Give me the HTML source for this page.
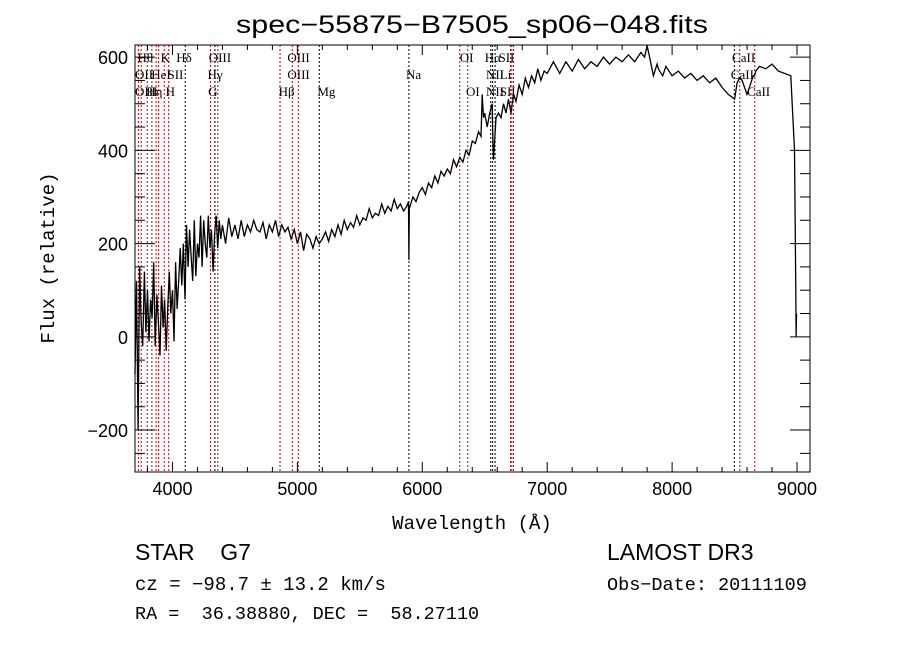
<!DOCTYPE html>
<html><head><meta charset="utf-8"><style>
body{margin:0;background:#fff;}
svg text{font-family:"Liberation Serif",serif;}
</style></head><body>
<svg id="c" width="900" height="649" viewBox="0 0 900 649" xmlns="http://www.w3.org/2000/svg">
<rect width="900" height="649" fill="#fff"/>
<text x="236" y="33" textLength="472" lengthAdjust="spacingAndGlyphs" font-size="25" style="font-family:'Liberation Sans',sans-serif">spec−55875−B7505_sp06−048.fits</text>
<g id="plot"></g>
<text x="54" y="258" text-anchor="middle" font-size="19" transform="rotate(-90 54 258)" style="font-family:'Liberation Mono',monospace">Flux (relative)</text>
<text x="472" y="529" text-anchor="middle" font-size="19" style="font-family:'Liberation Mono',monospace">Wavelength (Å)</text>
<text x="135" y="560" font-size="23" style="font-family:'Liberation Sans',sans-serif">STAR&#160;&#160;&#160; G7</text>
<text x="607" y="560" font-size="23" style="font-family:'Liberation Sans',sans-serif">LAMOST DR3</text>
<text x="135" y="590" font-size="19" style="font-family:'Liberation Mono',monospace">cz = −98.7 ± 13.2 km/s</text>
<text x="607" y="590" font-size="18.5" style="font-family:'Liberation Mono',monospace">Obs−Date: 20111109</text>
<text x="135" y="619" font-size="18.5" style="font-family:'Liberation Mono',monospace;white-space:pre" xml:space="preserve">RA =  36.38880, DEC =  58.27110</text>
</svg>
<script>
const wave = [3700,3712,3725,3737,3750,3762,3775,3787,3800,3812,3825,3837,3850,3862,3875,3887,3900,3912,3925,3937,3950,3962,3975,3987,4000,4012,4025,4037,4050,4062,4075,4087,4100,4112,4125,4137,4150,4162,4175,4187,4200,4212,4225,4237,4250,4262,4275,4287,4300,4312,4325,4337,4350,4362,4375,4387,4400,4425,4450,4475,4500,4525,4550,4575,4600,4625,4650,4675,4700,4725,4750,4775,4800,4825,4850,4875,4900,4925,4950,4975,5000,5025,5050,5075,5100,5125,5150,5175,5200,5225,5250,5275,5300,5325,5350,5375,5400,5425,5450,5475,5500,5525,5550,5575,5600,5625,5650,5675,5700,5725,5750,5775,5800,5825,5850,5875,5890,5893,5896,5925,5950,5975,6000,6025,6050,6075,6100,6125,6150,6175,6200,6225,6250,6275,6300,6325,6350,6375,6400,6425,6450,6470,6480,6490,6500,6520,6540,6560,6565,6570,6590,6610,6630,6650,6670,6690,6710,6730,6750,6775,6800,6825,6850,6875,6900,6925,6950,6975,7000,7050,7100,7150,7200,7250,7300,7350,7400,7450,7500,7550,7600,7650,7700,7750,7780,7800,7820,7850,7880,7890,7900,7925,7950,8000,8050,8100,8150,8200,8250,8300,8350,8400,8450,8500,8520,8540,8560,8600,8650,8660,8670,8700,8750,8800,8850,8900,8950,8980,8990,8993,8996,9000,9003];
const flux = [-80,120,-200,150,30,-20,140,10,100,-10,80,40,160,-20,90,30,-40,110,20,80,-30,60,140,50,100,-10,160,60,120,190,110,200,80,240,150,230,170,120,250,130,200,170,260,150,250,200,170,260,190,230,140,220,260,190,250,210,240,200,255,215,240,210,250,215,240,225,250,230,225,245,210,240,225,250,215,240,225,235,210,230,200,225,185,220,210,190,215,200,210,225,205,230,215,240,220,250,230,245,235,260,240,255,250,275,255,265,260,285,265,280,270,295,275,285,270,280,290,165,275,300,290,310,320,305,330,320,345,330,355,345,360,350,380,365,385,375,400,390,420,415,440,430,520,470,480,450,480,500,420,380,470,480,470,500,480,510,480,520,505,540,520,555,535,560,545,575,550,570,565,590,565,590,570,595,575,590,580,600,585,600,590,605,590,610,600,625,600,560,585,575,570,560,580,560,570,555,565,550,560,545,555,535,520,510,545,555,550,520,560,560,570,580,575,585,570,565,560,400,100,0,50];
const xTicks = [4000,5000,6000,7000,8000,9000];
const yTicks = [-200,0,200,400,600];
const lineWaves = [3727,3750,3798,3835,3869,3889,3934,3970,4102,4304,4340,4363,4861,4959,5007,5175,5893,6300,6364,6548,6563,6583,6707,6717,6731,8498,8542,8662];
const lineColors = ['r','r','r','r','r','r','r','r','k','r','k','r','r','r','r','k','k','r','r','k','k','k','r','r','r','k','r','r'];
const labelText = ['Hθ','OII','OIII','Hη','HeI','K','H','Hδ','SII','OIII','Hγ','G','OIII','OIII','Hβ','Mg','Na','OI','OI','Hα','SII','NII','Li','NII','SII','CaII','CaII','CaII'];
const labelWave = [3720,3700,3700,3790,3830,3905,3945,4030,3960,4290,4280,4285,4920,4920,4850,5160,5870,6300,6350,6500,6610,6510,6620,6510,6620,8480,8470,8600];
const labelRow = [0,1,2,2,1,0,2,0,1,0,1,2,0,1,2,2,1,0,2,0,0,1,1,2,2,0,1,2];

const X0=135,X1=810,Y0=45,Y1=472,WMIN=3700,WMAX=9104,FMIN=-290,FMAX=626;
const sx=w=>X0+(w-WMIN)/(WMAX-WMIN)*(X1-X0);
const sy=f=>Y1-(f-FMIN)/(FMAX-FMIN)*(Y1-Y0);
const NS='http://www.w3.org/2000/svg';
const g=document.getElementById('plot');
function mk(t,a){const e=document.createElementNS(NS,t);for(const k in a)e.setAttribute(k,a[k]);g.appendChild(e);return e;}

lineWaves.forEach((w,i)=>{
  const l=mk('line',{x1:sx(w),x2:sx(w),y1:Y0,y2:Y1,stroke:lineColors[i]==='r'?'#c00000':'#000','stroke-width':1,'stroke-dasharray':'2,2'});
  
  
});
labelText.forEach((t,i)=>{
  const e=mk('text',{x:sx(labelWave[i]),y:62+labelRow[i]*17,'font-size':13});
  e.textContent=t;
  
  
});
let d='';
wave.forEach((w,i)=>{d+=(i?'L':'M')+sx(w).toFixed(1)+','+sy(Math.max(FMIN,Math.min(FMAX,flux[i]))).toFixed(1);});
const p=mk('path',{d:d,fill:'none',stroke:'#000','stroke-width':1.3});



const fr=mk('rect',{x:X0,y:Y0,width:X1-X0,height:Y1-Y0,fill:'none',stroke:'#000','stroke-width':1});


for(let w=3800;w<=9100;w+=200){
  const major=w%1000===0,len=major?10:5;
  mk('line',{x1:sx(w),x2:sx(w),y1:Y1,y2:Y1-len,stroke:'#000'});
  mk('line',{x1:sx(w),x2:sx(w),y1:Y0,y2:Y0+len,stroke:'#000'});
}
for(let f=-250;f<=600;f+=50){
  const major=f%200===0,len=major?20:10;
  mk('line',{x1:X0,x2:X0+len,y1:sy(f),y2:sy(f),stroke:'#000'});
  mk('line',{x1:X1,x2:X1-len,y1:sy(f),y2:sy(f),stroke:'#000'});
}
xTicks.forEach(w=>{
  const t=mk('text',{x:sx(w),y:Y1+23,'text-anchor':'middle','font-size':18,style:"font-family:'Liberation Sans',sans-serif"});
  t.textContent=w;
  
  
});
yTicks.forEach(f=>{
  const t=mk('text',{x:X0-7,y:sy(f)+7,'text-anchor':'end','font-size':18,style:"font-family:'Liberation Sans',sans-serif"});
  t.textContent=f<0?'−'+(-f):f;
  
  
});
</script>
</body></html>
